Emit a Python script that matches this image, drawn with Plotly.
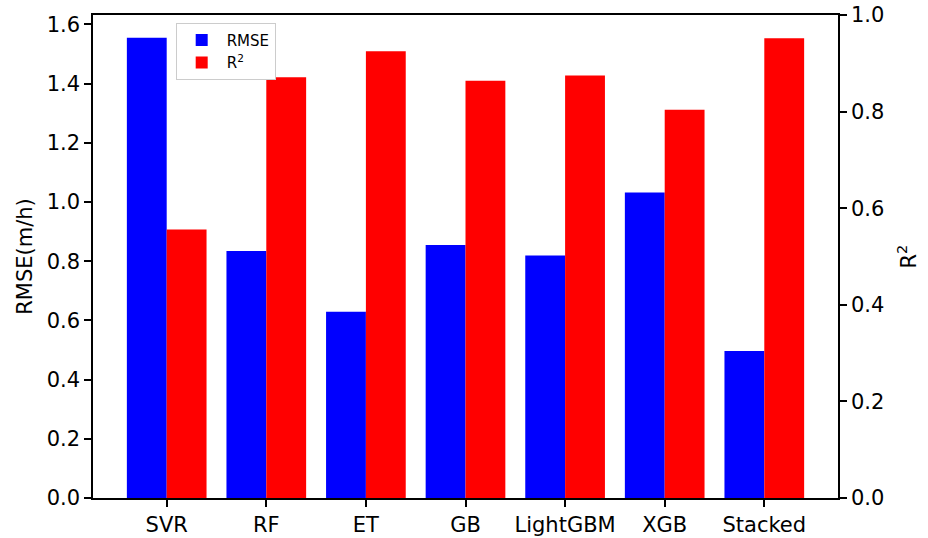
import plotly.graph_objects as go

models = ["SVR", "RF", "ET", "GB", "LightGBM", "XGB", "Stacked"]
rmse = [1.555, 0.835, 0.629, 0.855, 0.819, 1.032, 0.497]
r2 = [0.556, 0.871, 0.925, 0.864, 0.875, 0.804, 0.952]

FONT = "DejaVu Sans"
FS = 21

fig = go.Figure()
fig.add_trace(go.Bar(
    x=models, y=rmse, name="RMSE", marker=dict(color="#0000ff", line=dict(width=0)),
    width=0.4, offset=-0.4, yaxis="y",
))
fig.add_trace(go.Bar(
    x=models, y=r2, name="R<sup>2</sup>", marker=dict(color="#ff0000", line=dict(width=0)),
    width=0.4, offset=0.0, yaxis="y2",
))

axis_common = dict(
    showgrid=False, zeroline=False, showline=True, linecolor="black", linewidth=1.5,
    ticks="outside", ticklen=7, tickwidth=1.5, tickcolor="black", automargin=False,
    tickfont=dict(family=FONT, size=FS, color="black"),
)

fig.update_layout(
    width=928, height=538,
    margin=dict(l=93, r=90, t=15, b=40),
    plot_bgcolor="white", paper_bgcolor="white",
    barmode="overlay",
    font=dict(family=FONT, color="black"),
    xaxis=dict(**axis_common, range=[-0.74, 6.74], mirror=True),
    yaxis=dict(**axis_common, range=[0, 1.632], dtick=0.2, tickformat=".1f",
               title=dict(text="RMSE(m/h)", font=dict(family=FONT, size=FS), standoff=8)),
    yaxis2=dict(**axis_common, range=[0, 1.0], dtick=0.2, tickformat=".1f",
                overlaying="y", side="right",
                title=dict(text="R<sup>2</sup>", font=dict(family=FONT, size=FS), standoff=18)),
    legend=dict(
        x=0.111, y=0.984, xanchor="left", yanchor="top",
        bgcolor="white", bordercolor="#cccccc", borderwidth=1,
        font=dict(family=FONT, size=15, color="black"),
        itemwidth=40, tracegroupgap=2,
    ),
    showlegend=True,
)

fig.write_html("out.html")
